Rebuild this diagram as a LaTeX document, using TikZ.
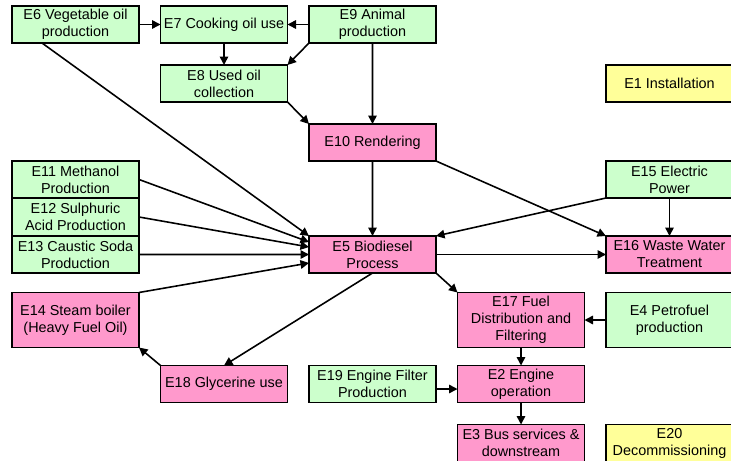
\documentclass[tikz,border=0pt]{standalone}
\usepackage{fontspec}
\setmainfont{Liberation Sans}
\usepackage{tikz}
\usetikzlibrary{arrows.meta}
\usetikzlibrary{positioning}
\definecolor{boxgreen}{HTML}{CCFFCC}
\definecolor{boxpink}{HTML}{FF99CC}
\definecolor{boxyellow}{HTML}{FFFF99}
\tikzstyle{green_box} = [
    rectangle, 
    draw=black, 
    fill=boxgreen, 
    line width=1.1pt, 
    font=\fontsize{8.2}{9.7}\selectfont, 
    align=center, 
    inner sep=1pt, 
    outer sep=0pt, 
    minimum width=2.54cm, 
    minimum height=0.74cm
]
\tikzstyle{pink_box} = [
    rectangle, 
    draw=black, 
    fill=boxpink, 
    line width=1.1pt, 
    font=\fontsize{8.2}{9.7}\selectfont, 
    align=center, 
    inner sep=1pt, 
    outer sep=0pt, 
    minimum width=2.54cm, 
    minimum height=0.74cm
]
\tikzstyle{yellow_box} = [
    rectangle, 
    draw=black, 
    fill=boxyellow, 
    line width=1.1pt, 
    font=\fontsize{8.2}{9.7}\selectfont, 
    align=center, 
    inner sep=1pt, 
    outer sep=0pt, 
    minimum width=2.54cm, 
    minimum height=0.74cm
]
\tikzstyle{arrow_line} = [
    -{Triangle[length=0.17cm, width=0.17cm]}, 
    line width=0.9pt
]

\begin{document}
\begin{tikzpicture}[
    node distance = 0.44cm and 0.43cm
]
\useasboundingbox (0,0) rectangle (14.62,9.2);

% top rows
\node [green_box] (e6) at (1.51,8.71) {E6 Vegetable oil\\production};
\node [green_box, right=of e6] (e7) {E7 Cooking oil use};
\node [green_box, right=of e7] (e9) {E9 Animal\\production};
\node [green_box, below=of e7] (e8) {E8 Used oil\\collection};
\node [pink_box, below=of e8, xshift=2.97cm] (e10) {E10 Rendering};
\node [yellow_box] (e1) at (13.39,7.53) {E1 Installation};

% inputs to the process
\node [green_box, minimum height=0.75cm] (e11) at (1.51,5.61) {E11 Methanol\\Production};
\node [green_box, minimum height=0.75cm, below=0pt of e11] (e12) {E12 Sulphuric\\Acid Production};
\node [green_box, minimum height=0.75cm, below=0pt of e12] (e13) {E13 Caustic Soda\\Production};
\node [pink_box] (e5) at (7.45,4.11) {E5 Biodiesel\\Process};
\node [green_box] (e15) at (13.39,5.61) {E15 Electric\\Power};
\node [pink_box] (e16) at (13.39,4.11) {E16 Waste Water\\Treatment};

% lower rows
\node [pink_box, minimum height=1.1cm] (e14) at (1.51,2.8) {E14 Steam boiler\\(Heavy Fuel Oil)};
\node [pink_box, minimum height=1.1cm] (e17) at (10.42,2.8) {E17 Fuel\\Distribution and\\Filtering};
\node [green_box, minimum height=1.1cm, right=of e17] (e4) {E4 Petrofuel\\production};
\node [pink_box] (e18) at (4.48,1.52) {E18 Glycerine use};
\node [green_box, right=of e18] (e19) {E19 Engine Filter\\Production};
\node [pink_box, right=of e19] (e2) {E2 Engine\\operation};
\node [pink_box, below=of e2] (e3) {E3 Bus services \&\\downstream};
\node [yellow_box, right=of e3] (e20) {E20\\Decommissioning};

\draw [arrow_line] (e6) -- (e7);
\draw [arrow_line] (e9) -- (e7);
\draw [arrow_line] (e7) -- (e8);
\draw [arrow_line] (e9.south west) -- (e8.north east);
\draw [arrow_line] (e8.south east) -- (e10.north west);
\draw [arrow_line] (e9) -- (e10);
\draw [arrow_line] ([xshift=-0.67cm]e6.south) -- (e5.north west);
\draw [arrow_line] (e11.east) -- ([yshift=0.25cm]e5.west);
\draw [arrow_line] (e12.east) -- ([yshift=0.15cm]e5.west);
\draw [arrow_line] (e13) -- (e5);
\draw [arrow_line] (e14.north east) -- ([yshift=-0.17cm]e5.west);
\draw [arrow_line] (e10) -- (e5);
\draw [arrow_line] (e10.south east) -- (e16.north west);
\draw [arrow_line] (e15.south west) -- (e5.north east);
\draw [arrow_line] (e15) -- (e16);
\draw [arrow_line] (e5) -- (e16);
\draw [arrow_line] (e5.south east) -- (e17.north west);
\draw [arrow_line] (e5.south) -- (e18.north);
\draw [arrow_line] (e18.north west) -- (e14.south east);
\draw [arrow_line] (e4) -- (e17);
\draw [arrow_line] (e17) -- (e2);
\draw [arrow_line] ([yshift=-0.1cm]e19.east) -- ([yshift=-0.1cm]e2.west);
\draw [arrow_line] (e2) -- (e3);
\end{tikzpicture}
\end{document}
